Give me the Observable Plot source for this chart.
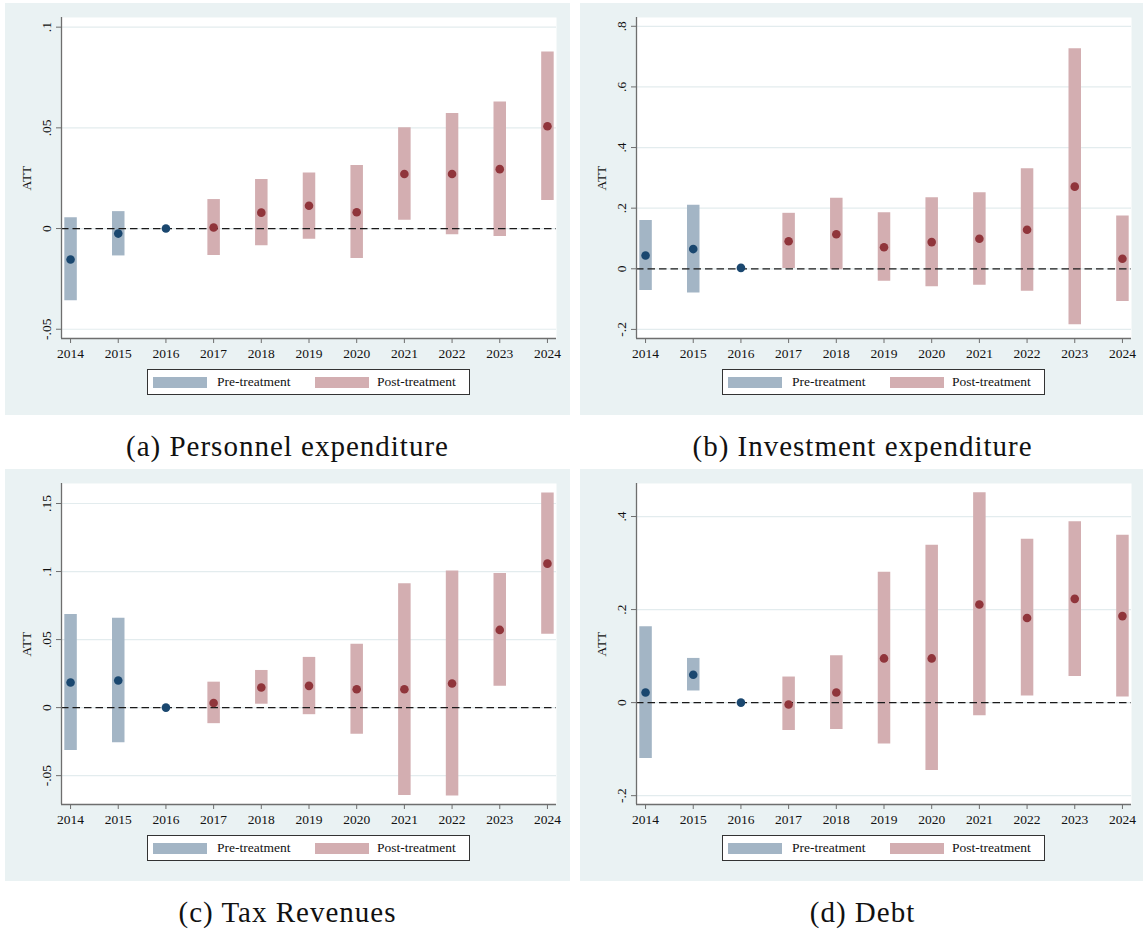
<!DOCTYPE html>
<html>
<head>
<meta charset="utf-8">
<script src="https://cdn.jsdelivr.net/npm/d3@7"></script>
<script src="https://cdn.jsdelivr.net/npm/@observablehq/plot@0.6"></script>
<style>
  body { margin: 0; background: #fff; width: 1143px; height: 930px; overflow: hidden; position: relative;
         font-family: "Liberation Serif", "Times New Roman", Times, serif; }
  .panel { position: absolute; width: 565px; height: 412px; background: #eaf2f3; }
  .panel svg { position: absolute; left: 0; top: 0; }
  .legend { position: absolute; left: 142px; top: 366px; width: 321px; height: 24px;
            border: 1px solid #333; background: #fff; font-size: 13.5px; color: #111; }
  .sw { position: absolute; top: 7px; width: 54px; height: 11px; }
  .lt { position: absolute; top: 4px; line-height: 15px; }
  .caption { position: absolute; width: 565px; text-align: center; font-size: 29px; line-height: 29px;
             letter-spacing: 1px; color: #111; }
</style>
</head>
<body>
<script>
// event-study estimates
const years = [2014, 2015, 2016, 2017, 2018, 2019, 2020, 2021, 2022, 2023, 2024];
const treatYear = 2017;

// (a) Personnel expenditure
const attA = [-0.0154, -0.0025, 0, 0.0005, 0.0079, 0.0113, 0.0081, 0.0271, 0.0271, 0.0295, 0.0508];
const loA  = [-0.0359, -0.0136, null, -0.0134, -0.0086, -0.0053, -0.0149, 0.0041, -0.0031, -0.0040, 0.0139];
const hiA  = [0.0053, 0.0084, null, 0.0144, 0.0243, 0.0276, 0.0313, 0.0500, 0.0571, 0.0629, 0.0877];
const ticksA = [-0.05, 0, 0.05, 0.1];

// (b) Investment expenditure
const attB = [0.044, 0.065, 0.003, 0.091, 0.114, 0.071, 0.088, 0.099, 0.129, 0.271, 0.033];
const loB  = [-0.072, -0.080, null, 0.001, -0.003, -0.041, -0.059, -0.054, -0.074, -0.185, -0.108];
const hiB  = [0.159, 0.210, null, 0.183, 0.233, 0.185, 0.234, 0.251, 0.330, 0.726, 0.174];
const ticksB = [-0.2, 0, 0.2, 0.4, 0.6, 0.8];

// (c) Tax Revenues
const attC = [0.0185, 0.0199, 0, 0.0034, 0.0148, 0.0160, 0.0135, 0.0135, 0.0177, 0.0571, 0.1058];
const loC  = [-0.0315, -0.0259, null, -0.0118, 0.0025, -0.0052, -0.0195, -0.0645, -0.0650, 0.0157, 0.0539];
const hiC  = [0.0684, 0.0657, null, 0.0187, 0.0273, 0.0369, 0.0465, 0.0911, 0.1004, 0.0985, 0.1578];
const ticksC = [-0.05, 0, 0.05, 0.1, 0.15];

// (d) Debt
const attD = [0.0216, 0.060, 0, -0.004, 0.0216, 0.095, 0.095, 0.211, 0.182, 0.223, 0.186];
const loD  = [-0.120, 0.025, null, -0.060, -0.058, -0.089, -0.146, -0.028, 0.014, 0.056, 0.012];
const hiD  = [0.163, 0.095, null, 0.055, 0.101, 0.280, 0.338, 0.451, 0.351, 0.389, 0.360];
const ticksD = [-0.2, 0, 0.2, 0.4];

const navy = "#1a476f", maroon = "#90353b";
const navyBar = "#a3b5c5", maroonBar = "#d3aeb1";
const axisGrey = "#6e6e6e";

const panels = [
  { left: 5,   top: 3,   caption: "(a) Personnel expenditure",  att: attA, lo: loA, hi: hiA, ticks: ticksA, domain: [-0.0546, 0.1048] },
  { left: 580, top: 3,   caption: "(b) Investment expenditure", att: attB, lo: loB, hi: hiB, ticks: ticksB, domain: [-0.230, 0.829] },
  { left: 5,   top: 469, caption: "(c) Tax Revenues",           att: attC, lo: loC, hi: hiC, ticks: ticksC, domain: [-0.0712, 0.1647] },
  { left: 580, top: 469, caption: "(d) Debt",                   att: attD, lo: loD, hi: hiD, ticks: ticksD, domain: [-0.219, 0.471] }
];

// Stata-style labels: ".05", "-.2"
const fmt = d => String(d).replace(/^(-?)0\./, "$1.");
const xDomain = [2013.81, 2024.19];

panels.forEach(function (p) {
  const rows = years.map((year, i) => ({ year, att: p.att[i], lo: p.lo[i], hi: p.hi[i] }));
  const pre = rows.filter(d => d.year < treatYear);
  const post = rows.filter(d => d.year >= treatYear);
  const hasCI = d => d.lo != null;

  const div = document.createElement("div");
  div.className = "panel";
  div.style.left = p.left + "px";
  div.style.top = p.top + "px";
  document.body.appendChild(div);

  const chart = Plot.plot({
    width: 565,
    height: 362,
    marginTop: 14,
    marginBottom: 27,
    marginLeft: 56,
    marginRight: 14,
    style: { background: "transparent", fontFamily: "'Liberation Serif', 'Times New Roman', Times, serif",
             fontSize: "13.5px", color: "#111" },
    x: { domain: xDomain, axis: null },
    y: { domain: p.domain, axis: null },
    marks: [
      Plot.frame({ fill: "white", stroke: null }),
      Plot.gridY(p.ticks, { stroke: "#e3ecee", strokeOpacity: 1, strokeWidth: 1.2 }),
      Plot.ruleX(pre.filter(hasCI), { x: "year", y1: "lo", y2: "hi", stroke: navyBar, strokeWidth: 12.5 }),
      Plot.ruleX(post.filter(hasCI), { x: "year", y1: "lo", y2: "hi", stroke: maroonBar, strokeWidth: 12.5 }),
      Plot.ruleY([0], { stroke: "#1a1a1a", strokeWidth: 1.3, strokeDasharray: "7.5,4" }),
      Plot.dot(pre, { x: "year", y: "att", r: 4.3, fill: navy, stroke: null }),
      Plot.dot(post, { x: "year", y: "att", r: 4.3, fill: maroon, stroke: null }),
      Plot.ruleX([xDomain[0]], { stroke: axisGrey, strokeWidth: 1.3 }),
      Plot.ruleY([p.domain[0]], { stroke: axisGrey, strokeWidth: 1.3 }),
      Plot.axisX(years, { tickSize: 5, tickPadding: 5, tickFormat: d => String(d), stroke: axisGrey, label: null }),
      Plot.axisY(p.ticks, { tickSize: 5, tickPadding: 6, tickRotate: -90, tickFormat: fmt, stroke: axisGrey,
                            label: "ATT", labelAnchor: "center", labelArrow: "none", labelOffset: 40 })
    ]
  });
  div.appendChild(chart);

  const legend = document.createElement("div");
  legend.className = "legend";
  legend.innerHTML =
    '<div class="sw" style="left:5px;background:' + navyBar + '"></div>' +
    '<div class="lt" style="left:69px">Pre-treatment</div>' +
    '<div class="sw" style="left:167px;background:' + maroonBar + '"></div>' +
    '<div class="lt" style="left:229px">Post-treatment</div>';
  div.appendChild(legend);

  const cap = document.createElement("div");
  cap.className = "caption";
  cap.style.left = p.left + "px";
  cap.style.top = (p.top + 429) + "px";
  cap.textContent = p.caption;
  document.body.appendChild(cap);
});
</script>
</body>
</html>
